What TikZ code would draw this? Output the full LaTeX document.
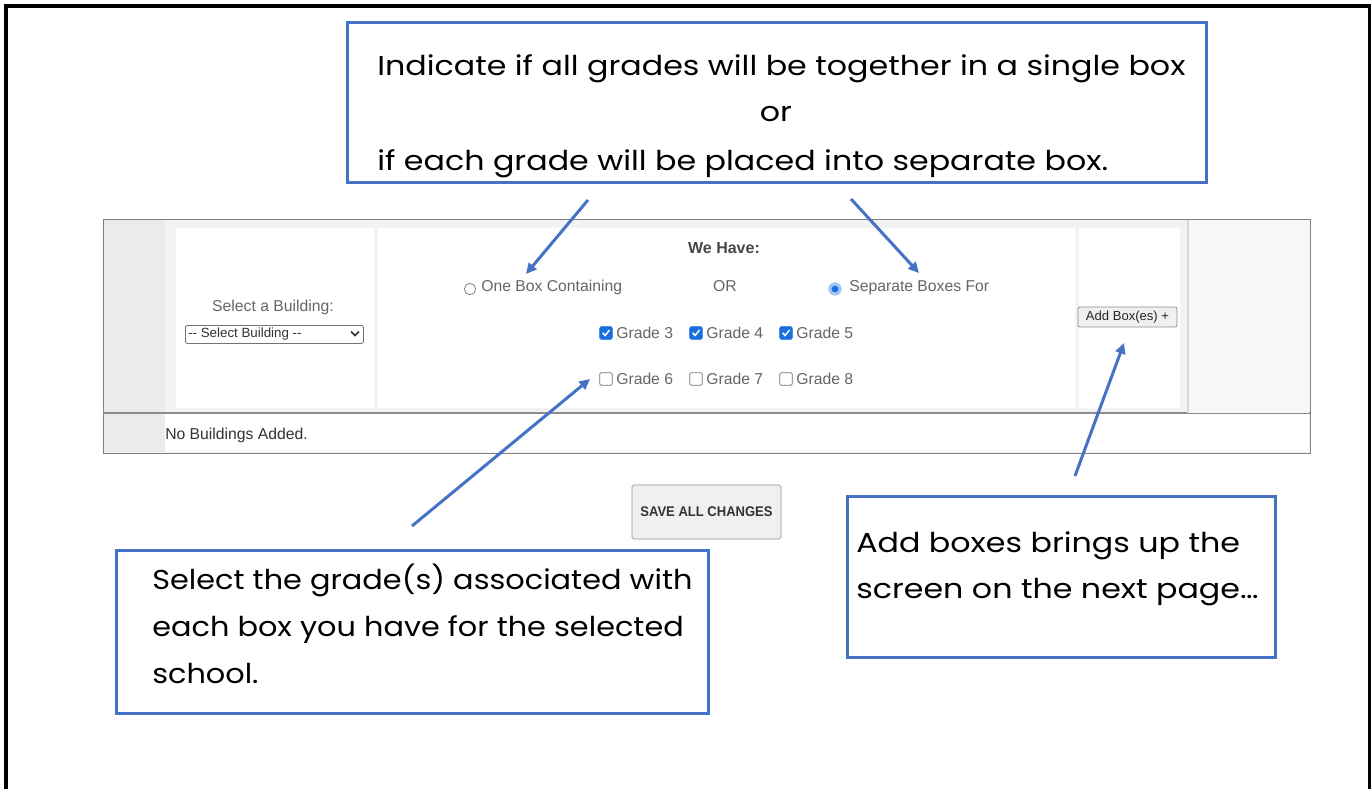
\documentclass[tikz,border=0pt]{standalone}
\usepackage{fontspec}
\setmainfont{Liberation Sans}
\newfontfamily\ui{Liberation Sans}
\newfontfamily\callfont{Poppins}
\usetikzlibrary{arrows.meta}
\definecolor{callblue}{HTML}{4472C4}
\definecolor{panelgray}{HTML}{F2F2F2}
\definecolor{colgray}{HTML}{EBEBEB}
\definecolor{uitext}{HTML}{666666}
\definecolor{uidark}{HTML}{333333}
\definecolor{chkblue}{HTML}{1A6FE0}
\newcommand{\ct}[1]{\scalebox{1.16}[1]{#1}}
\newcommand{\cts}[1]{\scalebox{1.11}[1]{#1}}
\tikzset{
  callout/.style={draw=callblue, line width=2.25pt, fill=white},
  calltext/.style={inner sep=0pt, anchor=base west, font=\callfont\fontsize{20.5}{24}\selectfont},
  uilabel/.style={inner sep=0pt, text=uitext, font=\ui\fontsize{11.8}{13}\selectfont},
  pointer/.style={draw=callblue, line width=2.25pt, -{Triangle[length=8pt,width=7.5pt]}},
  cell/.style={fill=white, draw=black!4, line width=0.5pt},
  checked/.style={fill=chkblue, draw=chkblue, rounded corners=1.5pt, line width=0.5pt},
  unchecked/.style={fill=white, draw=black!55, rounded corners=1.5pt, line width=0.6pt},
  uibutton/.style={fill=black!6, draw=black!45, rounded corners=1.5pt, line width=0.6pt},
}
\newcommand{\chkbox}[3]{% name, x, y (center)
  \node[checked, minimum width=9.5pt, minimum height=9.5pt, inner sep=0pt] (#1) at (#2,#3) {};
  \draw[white, line width=1.1pt] ([xshift=-2.5pt,yshift=0.2pt]#1.center) -- ([xshift=-0.7pt,yshift=-1.9pt]#1.center) -- ([xshift=2.7pt,yshift=2.3pt]#1.center);}
\newcommand{\unchk}[3]{%
  \node[unchecked, minimum width=9.5pt, minimum height=9.5pt, inner sep=0pt] (#1) at (#2,#3) {};}
\begin{document}
\begin{tikzpicture}[x=0.75pt,y=-0.75pt]
\useasboundingbox (0,0) rectangle (1371,789);
% page frame
\draw[line width=3pt] (5.5,789) -- (5.5,6) -- (1369.5,6) -- (1369.5,789);

% ---------------- web panel ----------------
\node[fill=panelgray, draw=black!50, line width=1.1pt, minimum width=905.25pt, minimum height=175.5pt, inner sep=0pt, anchor=north west] (panel) at (103,219) {};
\fill[colgray] (103.8,219.8) rectangle (165,452.2);
\fill[white] (165,413) rectangle (1309.2,452.2);
\draw[black!45, line width=0.8pt] (103,413) -- (1310,413);
\fill[black!3] (1188,219.8) rectangle (1309.2,412.5);
\draw[black!15, line width=0.8pt] (1188,219.8) -- (1188,412.5);
\node[cell, minimum width=149.25pt, minimum height=135.75pt, inner sep=0pt, anchor=north west] (cellA) at (175,227) {};
\node[cell, minimum width=523.5pt, minimum height=135.75pt, inner sep=0pt, anchor=north west] (cellB) at (377,227) {};
\node[cell, minimum width=76.5pt, minimum height=135.75pt, inner sep=0pt, anchor=north west] (cellC) at (1078,227) {};

% building selector
\node[uilabel] (selLabel) at (273,307) {Select a Building:};
\node[draw=black!55, fill=white, rounded corners=1.5pt, line width=0.6pt, minimum width=133.5pt, minimum height=13.5pt, inner sep=0pt, anchor=north west] (selBox) at (185,325) {};
\node[inner sep=0pt, anchor=west, text=uidark, font=\ui\fontsize{10}{11}\selectfont] (selText) at (188,334) {-- Select Building --};
\draw[uidark, line width=1.3pt] (351,331.5) -- (355,335.5) -- (359,331.5);

% options
\node[inner sep=0pt, text=black!72, font=\ui\bfseries\fontsize{12}{13}\selectfont] (weHave) at (724,248) {We Have:};
\node[circle, draw=black!50, fill=white, line width=0.6pt, minimum size=8.5pt, inner sep=0pt] (radioA) at (470,289) {};
\node[uilabel, anchor=base west] (optA) at (481,291) {One Box Containing};
\node[uilabel] (orLbl) at (725,286) {OR};
\node[circle, fill=chkblue!40, minimum size=10pt, inner sep=0pt] (radioB) at (835,289) {};
\node[circle, fill=chkblue, minimum size=5pt, inner sep=0pt] at (radioB) {};
\node[uilabel, anchor=base west] (optB) at (849,291) {Separate Boxes For};

% grade checkboxes
\chkbox{g3box}{606}{333}
\chkbox{g4box}{696}{333}
\chkbox{g5box}{786}{333}
\unchk{g6box}{606}{379}
\unchk{g7box}{696}{379}
\unchk{g8box}{786}{379}
\node[uilabel, anchor=base west] (g3) at (616,338.5) {Grade 3};
\node[uilabel, anchor=base west] (g4) at (706,338.5) {Grade 4};
\node[uilabel, anchor=base west] (g5) at (796,338.5) {Grade 5};
\node[uilabel, anchor=base west] (g6) at (616,384.5) {Grade 6};
\node[uilabel, anchor=base west] (g7) at (706,384.5) {Grade 7};
\node[uilabel, anchor=base west] (g8) at (796,384.5) {Grade 8};

% add button
\node[uibutton, minimum width=74.25pt, minimum height=15pt, inner sep=0pt, text=black!85, font=\ui\fontsize{9.8}{11}\selectfont] (addBtn) at (1127.5,317) {Add Box(es) +};

% bottom row
\node[inner sep=0pt, anchor=base west, text=uidark, font=\ui\fontsize{11.8}{13}\selectfont] (noB) at (165,439) {No Buildings Added.};

% save button
\node[fill=black!6, draw=black!25, rounded corners=2pt, line width=1pt, minimum width=111.75pt, minimum height=40.5pt, inner sep=0pt] (saveBtn) at (706.5,512) {};
\node[inner sep=0pt, text=black!80, font=\ui\bfseries\fontsize{10.5}{12}\selectfont] (saveTxt) at (706.5,512) {\scalebox{0.93}[1]{SAVE ALL CHANGES}};

% ---------------- callouts ----------------
\node[callout, minimum width=644.25pt, minimum height=120pt, inner sep=0pt, anchor=north west] (topCall) at (346,21) {};
\node[calltext] (t1) at (377,75) {\ct{Indicate if all grades will be together in a single box}};
\node[calltext, anchor=base] (t2) at (776,121) {\ct{or}};
\node[calltext] (t3) at (377,170) {\ct{if each grade will be placed into separate box.}};

\node[callout, minimum width=444pt, minimum height=122.25pt, inner sep=0pt, anchor=north west] (leftCall) at (115,549) {};
\node[calltext] (l1) at (152,589) {\cts{Select the grade(s) associated with}};
\node[calltext] (l2) at (152,636) {\cts{each box you have for the selected}};
\node[calltext] (l3) at (152,683) {\cts{school.}};

\node[callout, minimum width=321pt, minimum height=120.75pt, inner sep=0pt, anchor=north west] (rightCall) at (846,495) {};
\node[calltext] (r1) at (856,552) {\ct{Add boxes brings up the}};
\node[calltext] (r2) at (856,598) {\ct{screen on the next page\ldots}};

% ---------------- pointers ----------------
\coordinate (p1s) at (588,200);
\coordinate (p1e) at (526,274);
\coordinate (p2s) at (851,199);
\coordinate (p2e) at (919,273);
\coordinate (p3s) at (412,526);
\coordinate (p3e) at (590,379);
\coordinate (p4s) at (1075,476);
\coordinate (p4e) at (1124,343);
\draw[pointer] (p1s) -- (p1e);
\draw[pointer] (p2s) -- (p2e);
\draw[pointer] (p3s) -- (p3e);
\draw[pointer] (p4s) -- (p4e);
\end{tikzpicture}
\end{document}
